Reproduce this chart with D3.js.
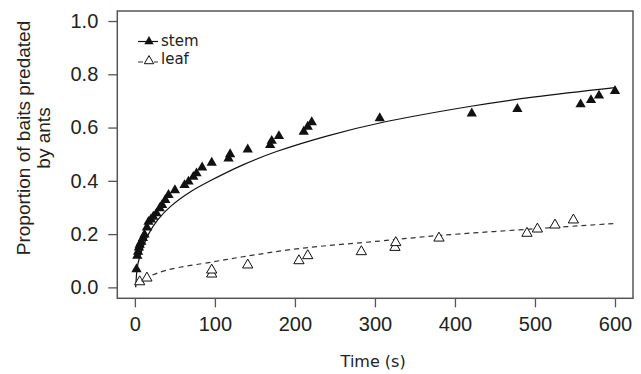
<!DOCTYPE html>
<html><head><meta charset="utf-8">
<script src="https://cdn.jsdelivr.net/npm/d3@7"></script>
<style>body{margin:0;background:#fff}svg{display:block}</style>
</head><body><svg id="c" width="641" height="374"></svg>
<script>
const stemTime = [2,3,4,5,6,8,10,12,15,17,20,23,27,31,34,38,42,50,62,67,73,77,84,96,117,119,141,169,171,180,211,216,221,306,421,478,557,570,580,600];
const stemProp = [0.068,0.119,0.134,0.15,0.16,0.171,0.185,0.198,0.225,0.246,0.255,0.265,0.278,0.297,0.309,0.328,0.347,0.365,0.384,0.397,0.415,0.428,0.45,0.468,0.484,0.5,0.518,0.534,0.55,0.568,0.584,0.603,0.62,0.635,0.653,0.67,0.687,0.703,0.72,0.737];
const leafTime = [6,15,96,96,141,205,216,283,325,326,380,490,503,525,548];
const leafProp = [0.021,0.035,0.05,0.065,0.084,0.10,0.119,0.134,0.15,0.168,0.185,0.203,0.219,0.234,0.253];
const stemFitTime = [1,3,6,10,17,29,45,70,94,135,177,242,306,420,500,600];
const stemFitProp = [0.0,0.075,0.115,0.15,0.2,0.255,0.305,0.36,0.40,0.46,0.51,0.57,0.617,0.68,0.715,0.75];
const leafFitTime = [4,8,17,40,98,135,206,306,381,500,600];
const leafFitProp = [0.01,0.025,0.04,0.065,0.096,0.115,0.146,0.174,0.195,0.22,0.24];
const xTicks = [0,100,200,300,400,500,600];
const yTicks = [0,0.2,0.4,0.6,0.8,1.0];
const seriesNames = ["stem","leaf"];
const xTitle = "Time (s)";
const yTitle = ["Proportion of baits predated","by ants"];

const svg = d3.select("#c");
const L = 117.3, R = 633, T = 11, B = 298.3;
const x = d3.scaleLinear().domain([-22, 622.5]).range([L, R]);
const y = d3.scaleLinear().domain([-0.041, 1.0376]).range([B, T]);
const axisColor = "#555";
const tickFont = "'Liberation Sans', Arial, sans-serif";
const labFont = "'DejaVu Sans', Verdana, sans-serif";

// x axis
const gx = svg.append("g").attr("transform", `translate(0,${B})`)
  .call(d3.axisBottom(x).tickValues(xTicks).tickSize(9).tickPadding(10).tickFormat(d3.format("d")));
gx.select(".domain").remove();
gx.selectAll("line").attr("stroke", axisColor).attr("stroke-width", 1.3);
gx.selectAll("text").attr("font-family", tickFont).attr("font-size", 20).attr("fill", "#222");

// y axis
const gy = svg.append("g").attr("transform", `translate(${L},0)`)
  .call(d3.axisLeft(y).tickValues(yTicks).tickSize(9).tickPadding(10).tickFormat(d3.format(".1f")));
gy.select(".domain").remove();
gy.selectAll("line").attr("stroke", axisColor).attr("stroke-width", 1.3);
gy.selectAll("text").attr("font-family", tickFont).attr("font-size", 20).attr("fill", "#222");

// box
svg.append("rect").attr("x", L).attr("y", T).attr("width", R - L).attr("height", B - T)
  .attr("fill", "none").attr("stroke", axisColor).attr("stroke-width", 1.5);

// fits
const line = d3.line().x(d => x(d[0])).y(d => y(d[1])).curve(d3.curveCatmullRom);
svg.append("path").datum(d3.zip(stemFitTime, stemFitProp)).attr("d", line)
  .attr("fill", "none").attr("stroke", "#111").attr("stroke-width", 1.2);
svg.append("path").datum(d3.zip(leafFitTime, leafFitProp)).attr("d", line)
  .attr("fill", "none").attr("stroke", "#333").attr("stroke-width", 1.2).attr("stroke-dasharray", "5,4");

// points
const tri = d3.symbol().type(d3.symbolTriangle).size(46);
svg.append("g").selectAll("path").data(d3.zip(leafTime, leafProp)).join("path")
  .attr("d", tri).attr("transform", d => `translate(${x(d[0])},${y(d[1])})`)
  .attr("fill", "#fff").attr("stroke", "#111").attr("stroke-width", 1);
svg.append("g").selectAll("path").data(d3.zip(stemTime, stemProp)).join("path")
  .attr("d", tri).attr("transform", d => `translate(${x(d[0])},${y(d[1])})`)
  .attr("fill", "#111");

// legend
const lg = svg.append("g");
lg.append("line").attr("x1", 138).attr("x2", 158).attr("y1", 41.5).attr("y2", 41.5).attr("stroke", "#111").attr("stroke-width", 1.2);
lg.append("path").attr("d", d3.symbol().type(d3.symbolTriangle).size(38)).attr("transform", "translate(149,41.5)").attr("fill", "#111");
lg.append("text").attr("x", 161).attr("y", 45.5).text(seriesNames[0]).attr("font-family", labFont).attr("font-size", 15).attr("fill", "#222");
lg.append("line").attr("x1", 138).attr("x2", 158).attr("y1", 62).attr("y2", 62).attr("stroke", "#333").attr("stroke-width", 1.2).attr("stroke-dasharray", "5,11");
lg.append("path").attr("d", d3.symbol().type(d3.symbolTriangle).size(38)).attr("transform", "translate(149,61)").attr("fill", "#fff").attr("stroke", "#111").attr("stroke-width", 1);
lg.append("text").attr("x", 161).attr("y", 64).text(seriesNames[1]).attr("font-family", labFont).attr("font-size", 15).attr("fill", "#222");

// titles
svg.append("text").attr("x", (L + R) / 2 - 2).attr("y", 367).attr("text-anchor", "middle")
  .attr("font-family", labFont).attr("font-size", 16).attr("fill", "#222").text(xTitle);
const yt = svg.append("text").attr("transform", "translate(0,138) rotate(-90)").attr("text-anchor", "middle")
  .attr("font-family", tickFont).attr("font-size", 19).attr("fill", "#222");
yt.append("tspan").attr("x", 0).attr("y", 30).text(yTitle[0]);
yt.append("tspan").attr("x", 0).attr("y", 50).text(yTitle[1]);
</script></body></html>
